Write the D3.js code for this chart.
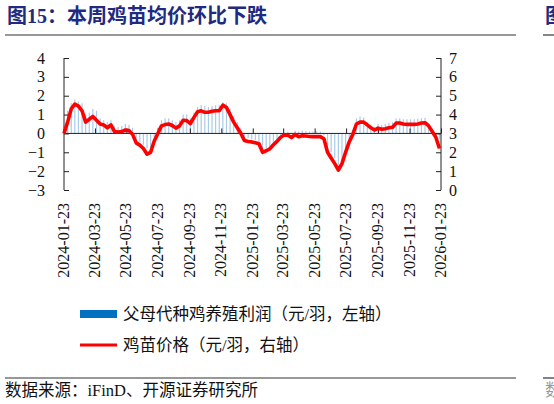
<!DOCTYPE html>
<html>
<head>
<meta charset="utf-8">
<script src="https://cdn.jsdelivr.net/npm/d3@7"></script>
<style>
  body { margin: 0; background: #fff; }
  svg { display: block; }
</style>
</head>
<body>
<svg width="554" height="404"></svg>
<script>
// weekly series, first week 2024-01-23
let firstWeek = "2024-01-23";

// 父母代种鸡养殖利润 (元/羽, left axis)
let profit = [
  0.4, 1.2, 1.6, 1.8, 1.7, 1.6, 1.0, 1.1, 1.3, 1.2,
  0.8, 0.7, 0.6, 0.7, 0.4, 0.35, 0.4, 0.5, 0.45, 0.3,
  -0.3, -0.45, -0.6, -0.8, -0.75, -0.2, 0.3, 0.7, 0.8, 0.8,
  0.7, 0.6, 0.7, 1.0, 1.0, 0.8, 1.1, 1.4, 1.5, 1.45,
  1.4, 1.45, 1.5, 1.5, 1.65, 1.6, 1.3, 0.9, 0.6, 0.3,
  -0.15, -0.25, -0.3, -0.35, -0.45, -0.85, -0.8, -0.7, -0.5, -0.3,
  -0.1, 0.05, 0.1, 0.0, 0.15, 0.1, 0.15, 0.12, 0.1, 0.1,
  0.12, 0.1, -0.1, -0.7, -1.0, -1.3, -1.8, -1.5, -1.1, -0.5,
  0.2, 0.8, 0.9, 0.85, 0.6, 0.45, 0.35, 0.5, 0.45, 0.5,
  0.55, 0.6, 0.8, 0.8, 0.75, 0.75, 0.75, 0.75, 0.78, 0.8,
  0.82, 0.5, 0.1, -0.1, -0.3
];

// 鸡苗价格 (元/羽, right axis)
let price = [
  3.0, 3.6, 4.3, 4.55, 4.45, 4.2, 3.6, 3.75, 3.9, 3.7,
  3.5, 3.45, 3.3, 3.45, 3.1, 3.08, 3.1, 3.18, 3.15, 2.95,
  2.5, 2.38, 2.2, 1.9, 2.0, 2.6, 3.0, 3.4, 3.47, 3.5,
  3.42, 3.28, 3.4, 3.7, 3.68, 3.52, 3.85, 4.15, 4.2, 4.12,
  4.12, 4.18, 4.2, 4.2, 4.5, 4.38, 4.0, 3.6, 3.3, 3.0,
  2.62, 2.57, 2.55, 2.5, 2.45, 2.0, 2.08, 2.18, 2.4, 2.58,
  2.8, 2.92, 2.9, 2.78, 2.95, 2.83, 2.88, 2.86, 2.84, 2.83,
  2.83, 2.83, 2.72, 2.0, 1.7, 1.4, 1.05, 1.4, 2.0, 2.55,
  2.95, 3.5, 3.6, 3.6, 3.45, 3.3, 3.18, 3.28, 3.22, 3.25,
  3.3, 3.33, 3.55, 3.55, 3.5, 3.48, 3.48, 3.48, 3.5, 3.55,
  3.57, 3.4, 3.1, 2.8, 2.2
];

let tickLabels = [
  "2024-01-23", "2024-03-23", "2024-05-23", "2024-07-23", "2024-09-23",
  "2024-11-23", "2025-01-23", "2025-03-23", "2025-05-23", "2025-07-23",
  "2025-09-23", "2025-11-23", "2026-01-23"
];

let title = "图15：本周鸡苗均价环比下跌";
let legendNames = ["父母代种鸡养殖利润（元/羽，左轴）", "鸡苗价格（元/羽，右轴）"];
let source = "数据来源：iFinD、开源证券研究所";

let serif = "'Liberation Serif', 'Times New Roman', serif";
let cjk = "'Liberation Serif', 'Noto Sans CJK SC', serif";

let svg = d3.select("svg");
let parse = d3.timeParse("%Y-%m-%d");
let start = parse(firstWeek);
let dates = price.map((d, i) => d3.timeDay.offset(start, 7 * i));
let tickDates = tickLabels.map(parse);

let plotLeft = 64, plotRight = 441, plotTop = 58, plotBottom = 190;

let x = d3.scaleTime()
  .domain([tickDates[0], tickDates[tickDates.length - 1]])
  .range([plotLeft, plotRight]);
let yL = d3.scaleLinear().domain([-3, 4]).range([plotBottom, plotTop]);
let yR = d3.scaleLinear().domain([0, 7]).range([plotBottom, plotTop]);

// title and rules
svg.append("text")
  .attr("x", 7).attr("y", 23)
  .attr("font-family", cjk)
  .attr("font-size", 20).attr("font-weight", "bold")
  .attr("fill", "#1f2a80")
  .text(title);
svg.append("text")
  .attr("x", 545).attr("y", 23)
  .attr("font-family", cjk)
  .attr("font-size", 20).attr("font-weight", "bold")
  .attr("fill", "#1f2a80")
  .text("图");
svg.append("line").attr("x1", 5).attr("x2", 516).attr("y1", 35).attr("y2", 35)
  .attr("stroke", "#333").attr("stroke-width", 1.2);
svg.append("line").attr("x1", 543).attr("x2", 554).attr("y1", 35).attr("y2", 35)
  .attr("stroke", "#333").attr("stroke-width", 1.2);

// bars
svg.append("g")
  .selectAll("rect")
  .data(profit)
  .enter()
  .append("rect")
  .attr("x", (d, i) => x(dates[i]) - 0.6)
  .attr("width", 1.2)
  .attr("y", d => yL(Math.max(0, d)))
  .attr("height", d => Math.abs(yL(d) - yL(0)))
  .attr("fill", "#a8cbe9");

// left axis
let gL = svg.append("g")
  .attr("transform", "translate(" + plotLeft + ",0)")
  .call(d3.axisLeft(yL).ticks(7).tickSize(-5).tickPadding(19).tickFormat(d3.format("d")));
// right axis
let gR = svg.append("g")
  .attr("transform", "translate(" + plotRight + ",0)")
  .call(d3.axisRight(yR).ticks(7).tickSize(-5).tickPadding(8).tickFormat(d3.format("d")));
[gL, gR].forEach(g => {
  g.attr("font-family", serif).attr("font-size", 16);
  g.selectAll("path, line").attr("stroke", "#222");
  g.selectAll("text").attr("fill", "#111");
});
gL.select(".domain").attr("d", "M0," + plotTop + "V" + plotBottom);
gR.select(".domain").attr("d", "M0," + plotTop + "V" + plotBottom);

// zero line with date ticks
let gX = svg.append("g")
  .attr("transform", "translate(0," + yL(0) + ")")
  .call(d3.axisBottom(x).tickValues(tickDates).tickSize(-5).tickFormat(""));
gX.selectAll("path, line").attr("stroke", "#222");
gX.select(".domain").attr("d", "M" + plotLeft + ",0H" + plotRight);

// date labels
svg.append("g")
  .attr("font-family", serif)
  .attr("font-size", 16)
  .selectAll("text")
  .data(tickDates)
  .enter()
  .append("text")
  .attr("fill", "#111")
  .attr("text-anchor", "end")
  .attr("transform", d => "translate(" + (x(d) + 5) + ",203) rotate(-90)")
  .text((d, i) => tickLabels[i]);

// price line
svg.append("path")
  .datum(price)
  .attr("fill", "none")
  .attr("stroke", "#ff0000")
  .attr("stroke-width", 3.6)
  .attr("stroke-linejoin", "round")
  .attr("d", d3.line().x((d, i) => x(dates[i])).y(d => yR(d)));

// legend
let lg = svg.append("g");
lg.append("rect").attr("x", 80).attr("y", 310).attr("width", 37).attr("height", 8).attr("fill", "#0070c0");
lg.append("line").attr("x1", 80).attr("x2", 117).attr("y1", 345).attr("y2", 345)
  .attr("stroke", "#ff0000").attr("stroke-width", 3);
lg.selectAll("text")
  .data(legendNames)
  .enter()
  .append("text")
  .attr("x", 123)
  .attr("y", (d, i) => 320 + i * 31)
  .attr("font-family", cjk)
  .attr("font-size", 16.5)
  .attr("fill", "#111")
  .text(d => d);

// source
svg.append("line").attr("x1", 5).attr("x2", 516).attr("y1", 378).attr("y2", 378)
  .attr("stroke", "#333").attr("stroke-width", 1.2);
svg.append("line").attr("x1", 543).attr("x2", 554).attr("y1", 378).attr("y2", 378)
  .attr("stroke", "#333").attr("stroke-width", 1.2);
svg.append("text")
  .attr("x", 5).attr("y", 396)
  .attr("font-family", cjk)
  .attr("font-size", 16.5)
  .attr("fill", "#111")
  .text(source);
svg.append("text")
  .attr("x", 545).attr("y", 396)
  .attr("font-family", cjk)
  .attr("font-size", 16.5)
  .attr("fill", "#999")
  .text("数");
</script>
</body>
</html>
